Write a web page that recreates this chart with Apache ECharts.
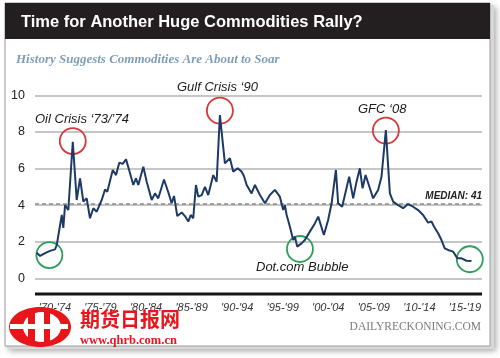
<!DOCTYPE html>
<html>
<head>
<meta charset="utf-8">
<script src="https://cdn.jsdelivr.net/npm/echarts@6/dist/echarts.min.js"></script>
<style>
  html, body { margin: 0; padding: 0; background: #ffffff; }
  #chart { width: 500px; height: 358px; }
</style>
</head>
<body>
<div id="chart"></div>
<script>
// ---- data ----
var years = [1970.49,1970.86,1971.41,1971.95,1972.50,1972.69,1973.24,1973.41,1973.60,1973.96,
  1974.45,1974.88,1975.25,1975.61,1975.98,1976.34,1976.71,1977.08,1977.63,1977.99,
  1978.24,1978.84,1979.20,1979.56,1979.93,1980.30,1980.74,1981.10,1981.39,1981.65,
  1982.20,1982.57,1983.12,1983.48,1983.84,1984.47,1984.94,1985.31,1985.57,1985.93,
  1986.41,1986.77,1987.14,1987.40,1987.68,1987.98,1988.23,1988.61,1988.97,1989.33,
  1989.88,1990.25,1990.61,1991.16,1991.71,1992.07,1992.56,1993.00,1993.25,1993.55,
  1994.09,1994.46,1995.01,1995.56,1996.10,1996.65,1997.20,1997.56,1997.75,1997.94,
  1998.30,1998.66,1998.85,1999.10,1999.58,1999.94,2000.49,2001.04,2001.41,2002.03,
  2002.50,2002.88,2003.35,2003.60,2004.04,2004.81,2005.25,2005.62,2005.98,2006.28,
  2006.61,2006.97,2007.44,2007.99,2008.36,2008.84,2009.28,2009.64,2010.19,2010.74,
  2011.28,2011.83,2012.38,2012.93,2013.48,2013.85,2014.14,2014.58,2014.95,2015.31,
  2015.67,2016.22,2016.70,2017.15,2017.70,2018.24];
var values = [1.40,1.22,1.38,1.50,1.58,1.82,3.46,2.75,4.00,3.73,
  7.46,4.28,5.46,4.19,4.37,3.28,3.83,3.64,4.28,4.85,
  4.73,5.92,5.64,6.32,6.25,6.50,5.74,5.10,5.46,5.10,
  6.10,5.28,4.28,4.64,4.37,5.40,4.70,4.10,4.50,3.40,
  3.60,3.40,3.10,3.46,3.28,5.10,4.46,4.55,5.00,4.55,
  5.64,5.28,8.92,6.28,6.56,5.83,6.01,5.83,5.59,5.10,
  4.64,5.10,4.55,4.10,4.55,4.83,4.46,3.73,4.00,3.46,
  2.82,2.09,2.27,1.73,1.91,2.09,2.55,3.00,3.37,2.37,
  3.19,4.10,5.92,4.10,3.91,5.55,4.37,5.28,6.01,4.92,
  5.64,5.10,4.37,4.83,5.55,8.10,4.64,4.19,4.00,3.83,
  4.06,3.91,3.73,3.46,3.04,3.10,2.82,2.46,2.09,1.64,
  1.55,1.46,1.09,1.09,0.96,0.95];
var periodLabels = ["'70-'74","'75-'79","'80-'84","'85-'89","'90-'94","'95-'99","'00-'04","'05-'09","'10-'14","'15-'19"];
var yTicks = [0, 2, 4, 6, 8, 10];
var medianValue = 4.1;
var medianLabel = 'MEDIAN: 41';
// highlight circles: [year, value]
var peakCircles = [[1974.45, 7.50], [1990.61, 9.16], [2008.84, 8.07]];
var troughCircles = [[1971.88, 1.27], [1999.40, 1.60], [2018.06, 1.04]];

var titleText = 'Time for Another Huge Commodities Rally?';
var subtitleText = 'History Suggests Commodities Are About to Soar';

var chart = echarts.init(document.getElementById('chart'), null, {renderer: 'canvas'});

var seriesData = years.map(function (y, i) { return [y, values[i]]; });

function circleMarks(list, color) {
  return list.map(function (p) {
    return {
      coord: p,
      symbol: 'circle',
      symbolSize: 26,
      itemStyle: { color: 'rgba(0,0,0,0)', borderColor: color, borderWidth: 1.8 },
      label: { show: false }
    };
  });
}

var option = {
  backgroundColor: '#ffffff',
  animation: false,
  textStyle: { fontFamily: 'Liberation Sans' },
  graphic: [
    // panel shadow
    { type: 'rect', z: -10, shape: { x: 7, y: 5, width: 487, height: 344 },
      style: { fill: '#d8d8d8', shadowBlur: 6, shadowColor: 'rgba(0,0,0,0.35)', shadowOffsetX: 2, shadowOffsetY: 2 } },
    { type: 'rect', z: -9, shape: { x: 5, y: 3, width: 485, height: 343 },
      style: { fill: '#ffffff', stroke: '#9a9a9a', lineWidth: 1 } },
    { type: 'rect', z: -8, shape: { x: 5, y: 3, width: 485, height: 36 },
      style: { fill: '#231f20' } },
    // bottom axis rule
    { type: 'rect', z: 100, shape: { x: 35, y: 292.6, width: 447, height: 2.8 },
      style: { fill: '#151515' } },
    { type: 'text', z: 10, left: 21, top: 14,
      style: { text: titleText, fill: '#ffffff', font: 'bold 16.5px "Liberation Sans"' } },
    { type: 'text', z: 10, left: 16, top: 53,
      style: { text: subtitleText, fill: '#7f9fb8', font: 'italic bold 13px "Liberation Serif"' } },
    { type: 'text', z: 10, left: 35, top: 113,
      style: { text: "Oil Crisis \u201873/\u201974", fill: '#1a1a1a', font: 'italic 13px "Liberation Sans"' } },
    { type: 'text', z: 10, left: 177, top: 81,
      style: { text: "Gulf Crisis \u201890", fill: '#1a1a1a', font: 'italic 13px "Liberation Sans"' } },
    { type: 'text', z: 10, left: 358, top: 103,
      style: { text: "GFC \u201808", fill: '#1a1a1a', font: 'italic 13px "Liberation Sans"' } },
    { type: 'text', z: 10, left: 256, top: 261,
      style: { text: 'Dot.com Bubble', fill: '#1a1a1a', font: 'italic 13px "Liberation Sans"' } },
    { type: 'text', z: 10, right: 19, top: 321,
      style: { text: 'DAILYRECKONING.COM', fill: '#7a7a7a', font: '11.5px "Liberation Serif"' } },
    // watermark logo
    { type: 'ellipse', z: 120, shape: { cx: 40, cy: 327, rx: 31, ry: 20 }, style: { fill: '#e8161b' } },
    { type: 'ellipse', z: 121, shape: { cx: 42, cy: 327, rx: 19, ry: 15 }, style: { fill: '#ffffff' } },
    { type: 'rect', z: 122, shape: { x: 28, y: 311, width: 7, height: 32 }, style: { fill: '#e8161b' } },
    { type: 'rect', z: 122, shape: { x: 44, y: 311, width: 6, height: 32 }, style: { fill: '#e8161b' } },
    { type: 'rect', z: 123, shape: { x: 10, y: 324, width: 58, height: 5 }, style: { fill: '#ffffff' } },
    { type: 'text', z: 120, left: 80, top: 309,
      style: { text: '\u671f\u8d27\u65e5\u62a5\u7f51', fill: '#e8161b', font: 'bold 20px "Noto Sans CJK SC"' } },
    { type: 'text', z: 120, left: 80, top: 334,
      style: { text: 'www.qhrb.com.cn', fill: '#e8161b', font: 'bold 12.5px "Liberation Serif"' } }
  ],
  grid: [
    { left: 35, right: 18, top: 95.3, bottom: 79.7, containLabel: false },
    { left: 32.2, right: 12.3, top: 95.3, bottom: 79.7, containLabel: false }
  ],
  xAxis: [
    { type: 'value', gridIndex: 0, min: 1970.3, max: 2019.4, offset: 15.7,
      axisLine: { show: false }, axisTick: { show: false }, axisLabel: { show: false }, splitLine: { show: false } },
    { type: 'category', gridIndex: 1, data: periodLabels, boundaryGap: true, offset: 15.7,
      axisLine: { show: false }, axisTick: { show: false }, splitLine: { show: false },
      axisLabel: { show: true, margin: 8, color: '#333', fontSize: 11, fontStyle: 'italic', fontFamily: 'Liberation Sans' } }
  ],
  yAxis: [
    { type: 'value', gridIndex: 0, min: yTicks[0], max: yTicks[yTicks.length - 1], interval: 2,
      axisLine: { show: false }, axisTick: { show: false },
      axisLabel: { margin: 10, color: '#222', fontSize: 12.5, fontFamily: 'Liberation Sans' },
      splitLine: { show: true, lineStyle: { color: '#b3b3b3', width: 1.5 } } },
    { type: 'value', gridIndex: 1, show: false }
  ],
  series: [
    {
      type: 'line', xAxisIndex: 0, yAxisIndex: 0,
      data: seriesData, showSymbol: false, symbol: 'none',
      lineStyle: { color: '#1d3a66', width: 2 },
      z: 5,
      markLine: {
        silent: true, symbol: 'none',
        lineStyle: { color: '#8c8c8c', type: [4, 3], width: 1.5 },
        label: { show: true, position: 'insideEndTop', formatter: medianLabel,
          color: '#222', fontSize: 10, fontStyle: 'italic', fontWeight: 'bold', fontFamily: 'Liberation Sans', distance: [0, 2] },
        data: [{ yAxis: medianValue }]
      },
      markPoint: {
        silent: true,
        data: circleMarks(peakCircles, '#d9383a').concat(circleMarks(troughCircles, '#2e9e5b'))
      }
    }
  ]
};
chart.setOption(option);
</script>
</body>
</html>
